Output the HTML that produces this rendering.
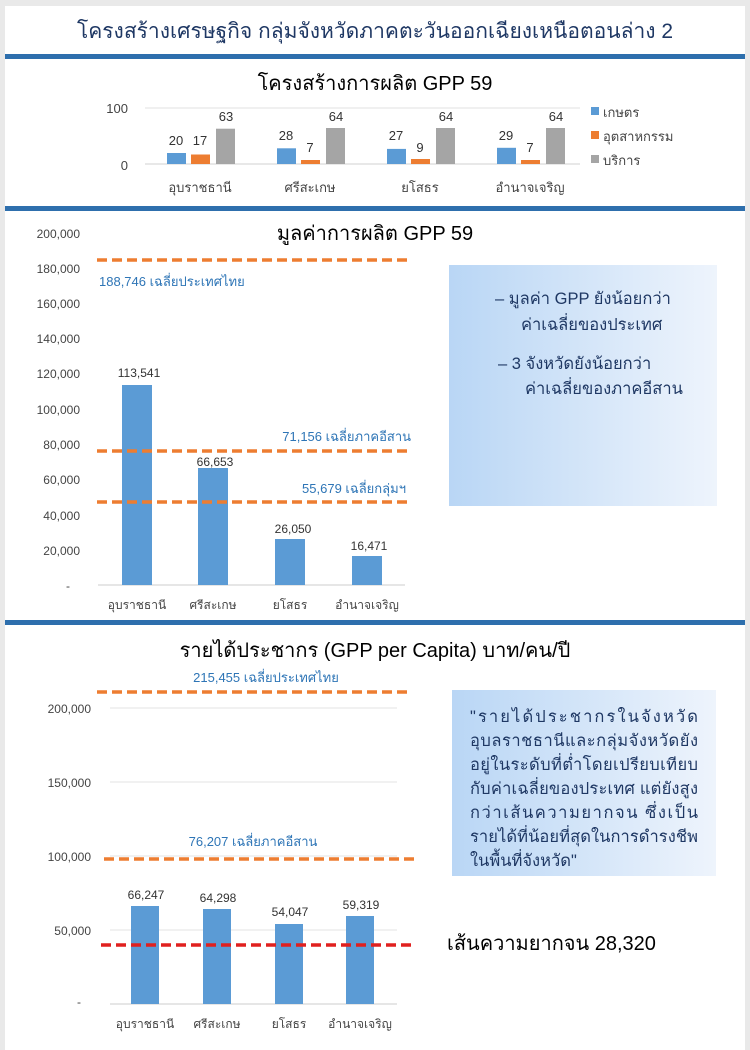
<!DOCTYPE html>
<html><head><meta charset="utf-8"><style>
html,body{margin:0;padding:0;background:#e9e9e9}
svg{display:block}
text{font-family:"Liberation Sans","DejaVu Sans",sans-serif}
</style></head><body>
<svg width="750" height="1050" viewBox="0 0 750 1050" xmlns="http://www.w3.org/2000/svg">
<defs>
<linearGradient id="g" x1="0" x2="1" y1="0" y2="0"><stop offset="0" stop-color="#b9d6f5"/><stop offset="1" stop-color="#eef4fc"/></linearGradient>
</defs>
<rect x="0" y="0" width="750" height="1050" fill="#e9e9e9"/>
<rect x="5" y="6" width="740" height="1044" fill="#fff"/>
<text x="375" y="38" font-size="21" fill="#1f3864" text-anchor="middle">โครงสร้างเศรษฐกิจ กลุ่มจังหวัดภาคตะวันออกเฉียงเหนือตอนล่าง 2</text>
<rect x="5" y="54" width="740" height="5" fill="#2e6fad"/>
<!-- chart1 -->
<text x="375" y="90" font-size="20" fill="#000" text-anchor="middle">โครงสร้างการผลิต GPP 59</text>
<line x1="145" y1="108" x2="580" y2="108" stroke="#e0e0e0"/>
<line x1="145" y1="164" x2="580" y2="164" stroke="#d0d0d0"/>
<text x="128" y="113" font-size="13" fill="#444" text-anchor="end">100</text>
<text x="128" y="170" font-size="13" fill="#444" text-anchor="end">0</text>
<g font-size="13" fill="#333" text-anchor="middle">
<rect x="167" y="153" width="19" height="11" fill="#5b9bd5"/><rect x="191" y="154.5" width="19" height="9.5" fill="#ed7d31"/><rect x="216" y="128.7" width="19" height="35.3" fill="#a5a5a5"/>
<text x="176" y="145">20</text><text x="200" y="145">17</text><text x="226" y="121">63</text>
<rect x="277" y="148.3" width="19" height="15.7" fill="#5b9bd5"/><rect x="301" y="160" width="19" height="4" fill="#ed7d31"/><rect x="326" y="128" width="19" height="36" fill="#a5a5a5"/>
<text x="286" y="140">28</text><text x="310" y="152">7</text><text x="336" y="121">64</text>
<rect x="387" y="148.9" width="19" height="15.1" fill="#5b9bd5"/><rect x="411" y="159" width="19" height="5" fill="#ed7d31"/><rect x="436" y="128" width="19" height="36" fill="#a5a5a5"/>
<text x="396" y="140">27</text><text x="420" y="152">9</text><text x="446" y="121">64</text>
<rect x="497" y="147.8" width="19" height="16.2" fill="#5b9bd5"/><rect x="521" y="160" width="19" height="4" fill="#ed7d31"/><rect x="546" y="128" width="19" height="36" fill="#a5a5a5"/>
<text x="506" y="140">29</text><text x="530" y="152">7</text><text x="556" y="121">64</text>
</g>
<g font-size="13" fill="#444" text-anchor="middle">
<text x="200" y="192">อุบราชธานี</text><text x="310" y="192">ศรีสะเกษ</text><text x="420" y="192">ยโสธร</text><text x="530" y="192">อำนาจเจริญ</text>
</g>
<g font-size="13" fill="#444">
<rect x="591" y="107" width="8" height="8" fill="#5b9bd5"/><text x="603" y="117">เกษตร</text>
<rect x="591" y="131" width="8" height="8" fill="#ed7d31"/><text x="603" y="141">อุตสาหกรรม</text>
<rect x="591" y="155" width="8" height="8" fill="#a5a5a5"/><text x="603" y="165">บริการ</text>
</g>
<rect x="5" y="206" width="740" height="5" fill="#2e6fad"/>
<!-- chart2 -->
<text x="375" y="240" font-size="20" fill="#000" text-anchor="middle">มูลค่าการผลิต GPP 59</text>
<g font-size="12" fill="#444" text-anchor="end">
<text x="80" y="238">200,000</text><text x="80" y="273">180,000</text><text x="80" y="308">160,000</text><text x="80" y="343">140,000</text><text x="80" y="378">120,000</text><text x="80" y="414">100,000</text><text x="80" y="449">80,000</text><text x="80" y="484">60,000</text><text x="80" y="520">40,000</text><text x="80" y="555">20,000</text><text x="70" y="590">-</text>
</g>
<line x1="98" y1="585" x2="405" y2="585" stroke="#ccc"/>
<rect x="122" y="385" width="30" height="200" fill="#5b9bd5"/>
<rect x="198" y="468" width="30" height="117" fill="#5b9bd5"/>
<rect x="275" y="539" width="30" height="46" fill="#5b9bd5"/>
<rect x="352" y="556" width="30" height="29" fill="#5b9bd5"/>
<g font-size="12" fill="#333" text-anchor="middle">
<text x="139" y="377">113,541</text><text x="215" y="466">66,653</text><text x="293" y="533">26,050</text><text x="369" y="550">16,471</text>
</g>
<g font-size="12" fill="#444" text-anchor="middle">
<text x="137" y="609">อุบราชธานี</text><text x="213" y="609">ศรีสะเกษ</text><text x="290" y="609">ยโสธร</text><text x="367" y="609">อำนาจเจริญ</text>
</g>
<g stroke="#ed7d31" stroke-width="3.5" stroke-dasharray="10,5">
<line x1="97" y1="260" x2="411" y2="260"/><line x1="97" y1="451" x2="411" y2="451"/><line x1="97" y1="502" x2="411" y2="502"/>
</g>
<g font-size="13" fill="#2e75b6">
<text x="99" y="286">188,746 เฉลี่ยประเทศไทย</text>
<text x="411" y="441" text-anchor="end">71,156 เฉลี่ยภาคอีสาน</text>
<text x="406" y="493" text-anchor="end">55,679 เฉลี่ยกลุ่มฯ</text>
</g>
<rect x="449" y="265" width="268" height="241" fill="url(#g)"/>
<g font-size="16.5" fill="#1f3864">
<text x="495" y="304">–  มูลค่า GPP ยังน้อยกว่า</text>
<text x="521" y="330">ค่าเฉลี่ยของประเทศ</text>
<text x="498" y="369">–  3 จังหวัดยังน้อยกว่า</text>
<text x="525" y="394">ค่าเฉลี่ยของภาคอีสาน</text>
</g>
<rect x="5" y="620" width="740" height="5" fill="#2e6fad"/>
<!-- chart3 -->
<text x="375" y="657" font-size="20" fill="#000" text-anchor="middle">รายได้ประชากร (GPP per Capita) บาท/คน/ปี</text>
<g stroke="#e3e3e3"><line x1="110" y1="708" x2="397" y2="708"/><line x1="110" y1="782" x2="397" y2="782"/><line x1="110" y1="856" x2="397" y2="856"/><line x1="110" y1="930" x2="397" y2="930"/></g>
<line x1="110" y1="1004" x2="397" y2="1004" stroke="#ccc"/>
<g font-size="12" fill="#444" text-anchor="end">
<text x="91" y="713">200,000</text><text x="91" y="787">150,000</text><text x="91" y="861">100,000</text><text x="91" y="935">50,000</text><text x="81" y="1006">-</text>
</g>
<rect x="131" y="906" width="28" height="98" fill="#5b9bd5"/>
<rect x="203" y="909" width="28" height="95" fill="#5b9bd5"/>
<rect x="275" y="924" width="28" height="80" fill="#5b9bd5"/>
<rect x="346" y="916" width="28" height="88" fill="#5b9bd5"/>
<g font-size="12" fill="#333" text-anchor="middle">
<text x="146" y="899">66,247</text><text x="218" y="902">64,298</text><text x="290" y="916">54,047</text><text x="361" y="909">59,319</text>
</g>
<g font-size="12" fill="#444" text-anchor="middle">
<text x="145" y="1028">อุบราชธานี</text><text x="217" y="1028">ศรีสะเกษ</text><text x="289" y="1028">ยโสธร</text><text x="360" y="1028">อำนาจเจริญ</text>
</g>
<g stroke="#ed7d31" stroke-width="3.5" stroke-dasharray="10,5">
<line x1="97" y1="692" x2="410" y2="692"/><line x1="104" y1="859" x2="417" y2="859"/>
</g>
<line x1="101" y1="945" x2="415" y2="945" stroke="#e0201f" stroke-width="3.5" stroke-dasharray="10,5"/>
<g font-size="13" fill="#2e75b6" text-anchor="middle">
<text x="266" y="682">215,455 เฉลี่ยประเทศไทย</text>
<text x="253" y="846">76,207 เฉลี่ยภาคอีสาน</text>
</g>
<rect x="452" y="690" width="264" height="186" fill="url(#g)"/>
<g font-size="16.5" fill="#1f3864" lengthAdjust="spacingAndGlyphs">
<text x="470" y="722" textLength="228">"รายได้ประชากรในจังหวัด</text>
<text x="470" y="746" textLength="228">อุบลราชธานีและกลุ่มจังหวัดยัง</text>
<text x="470" y="770" textLength="228">อยู่ในระดับที่ต่ำโดยเปรียบเทียบ</text>
<text x="470" y="794" textLength="228">กับค่าเฉลี่ยของประเทศ แต่ยังสูง</text>
<text x="470" y="818" textLength="228">กว่าเส้นความยากจน ซึ่งเป็น</text>
<text x="470" y="842" textLength="228">รายได้ที่น้อยที่สุดในการดำรงชีพ</text>
<text x="470" y="866">ในพื้นที่จังหวัด"</text>
</g>
<text x="447" y="950" font-size="20" fill="#000">เส้นความยากจน 28,320</text>
</svg>
</body></html>
